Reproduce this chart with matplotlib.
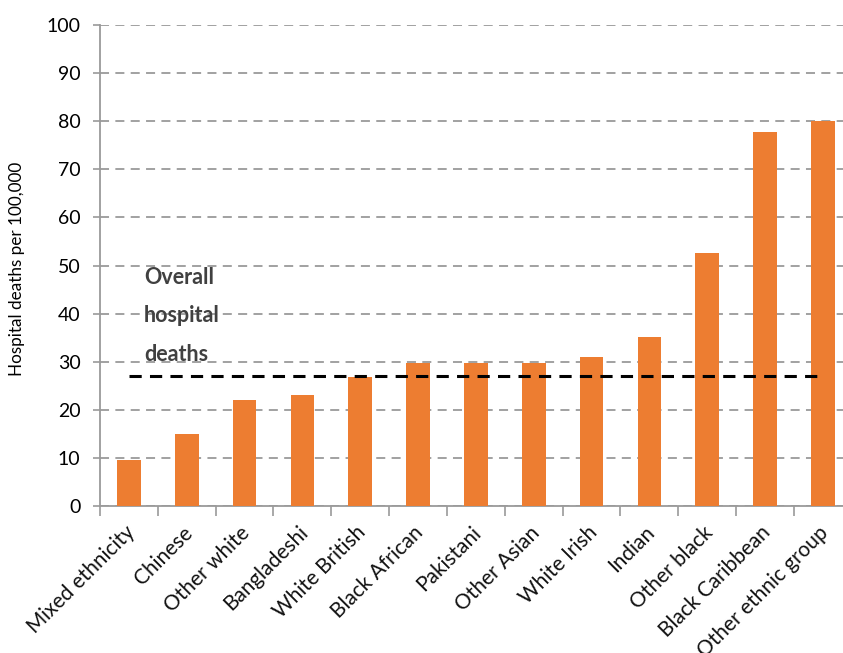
import matplotlib
matplotlib.use("Agg")
import matplotlib.pyplot as plt
import numpy as np

plt.rcParams['font.family'] = ['Lato', 'DejaVu Sans']

groups = ["Mixed ethnicity", "Chinese", "Other white", "Bangladeshi", "White British",
          "Black African", "Pakistani", "Other Asian", "White Irish", "Indian",
          "Other black", "Black Caribbean", "Other ethnic group"]
deaths = [9.6, 15.0, 22.0, 23.0, 26.8, 29.8, 29.8, 29.8, 31.0, 35.2, 52.7, 77.8, 80.0]
overall = 27.1
y_ticks = list(range(0, 101, 10))

fig = plt.figure(figsize=(8.43, 6.53), dpi=100)
ax = fig.add_axes([0.1186, 0.225, 0.8918, 0.7367])

x = np.arange(len(groups))
ax.bar(x, deaths, width=0.41, color="#ED7D31", zorder=3)

ax.set_xlim(-0.5, len(groups) - 0.5)
ax.set_ylim(0, 100)
ax.set_yticks(y_ticks)
ax.set_yticklabels([str(t) for t in y_ticks], fontsize=14)
ax.yaxis.grid(True, linestyle=(0, (5, 3.5)), color="#9a9a9a", linewidth=1.3, zorder=0)

# Category boundary ticks on the x axis
ax.set_xticks(np.arange(-0.5, len(groups) - 0.4, 1.0))
ax.set_xticklabels([])
ax.tick_params(axis='x', direction='out', length=7, color="#9a9a9a", width=1.2)
ax.tick_params(axis='y', direction='out', length=5, color="#9a9a9a", width=1.2, pad=9)
for i, g in enumerate(groups):
    ax.text(i - 0.08, -3.4, g, rotation=45, ha='right', va='top',
            rotation_mode='anchor', fontsize=15, color="#111111")

for s in ['top', 'right']:
    ax.spines[s].set_visible(False)
for s in ['left', 'bottom']:
    ax.spines[s].set_color("#9a9a9a")
    ax.spines[s].set_linewidth(1.3)

# Overall reference line
ax.plot([0, len(groups) - 1], [overall, overall], color="black",
        linestyle=(0, (4, 2.7)), linewidth=2.2, zorder=4)
ax.text(0.26, 49.8, "Overall\nhospital\ndeaths", fontsize=15.5, fontweight='bold',
        color="#404040", va='top', ha='left', linespacing=2.03, zorder=5)

ax.set_ylabel("Hospital deaths per 100,000", fontsize=12.3)
ax.yaxis.set_label_coords(-0.1, 0.494)

fig.savefig("out.png", dpi=100)
